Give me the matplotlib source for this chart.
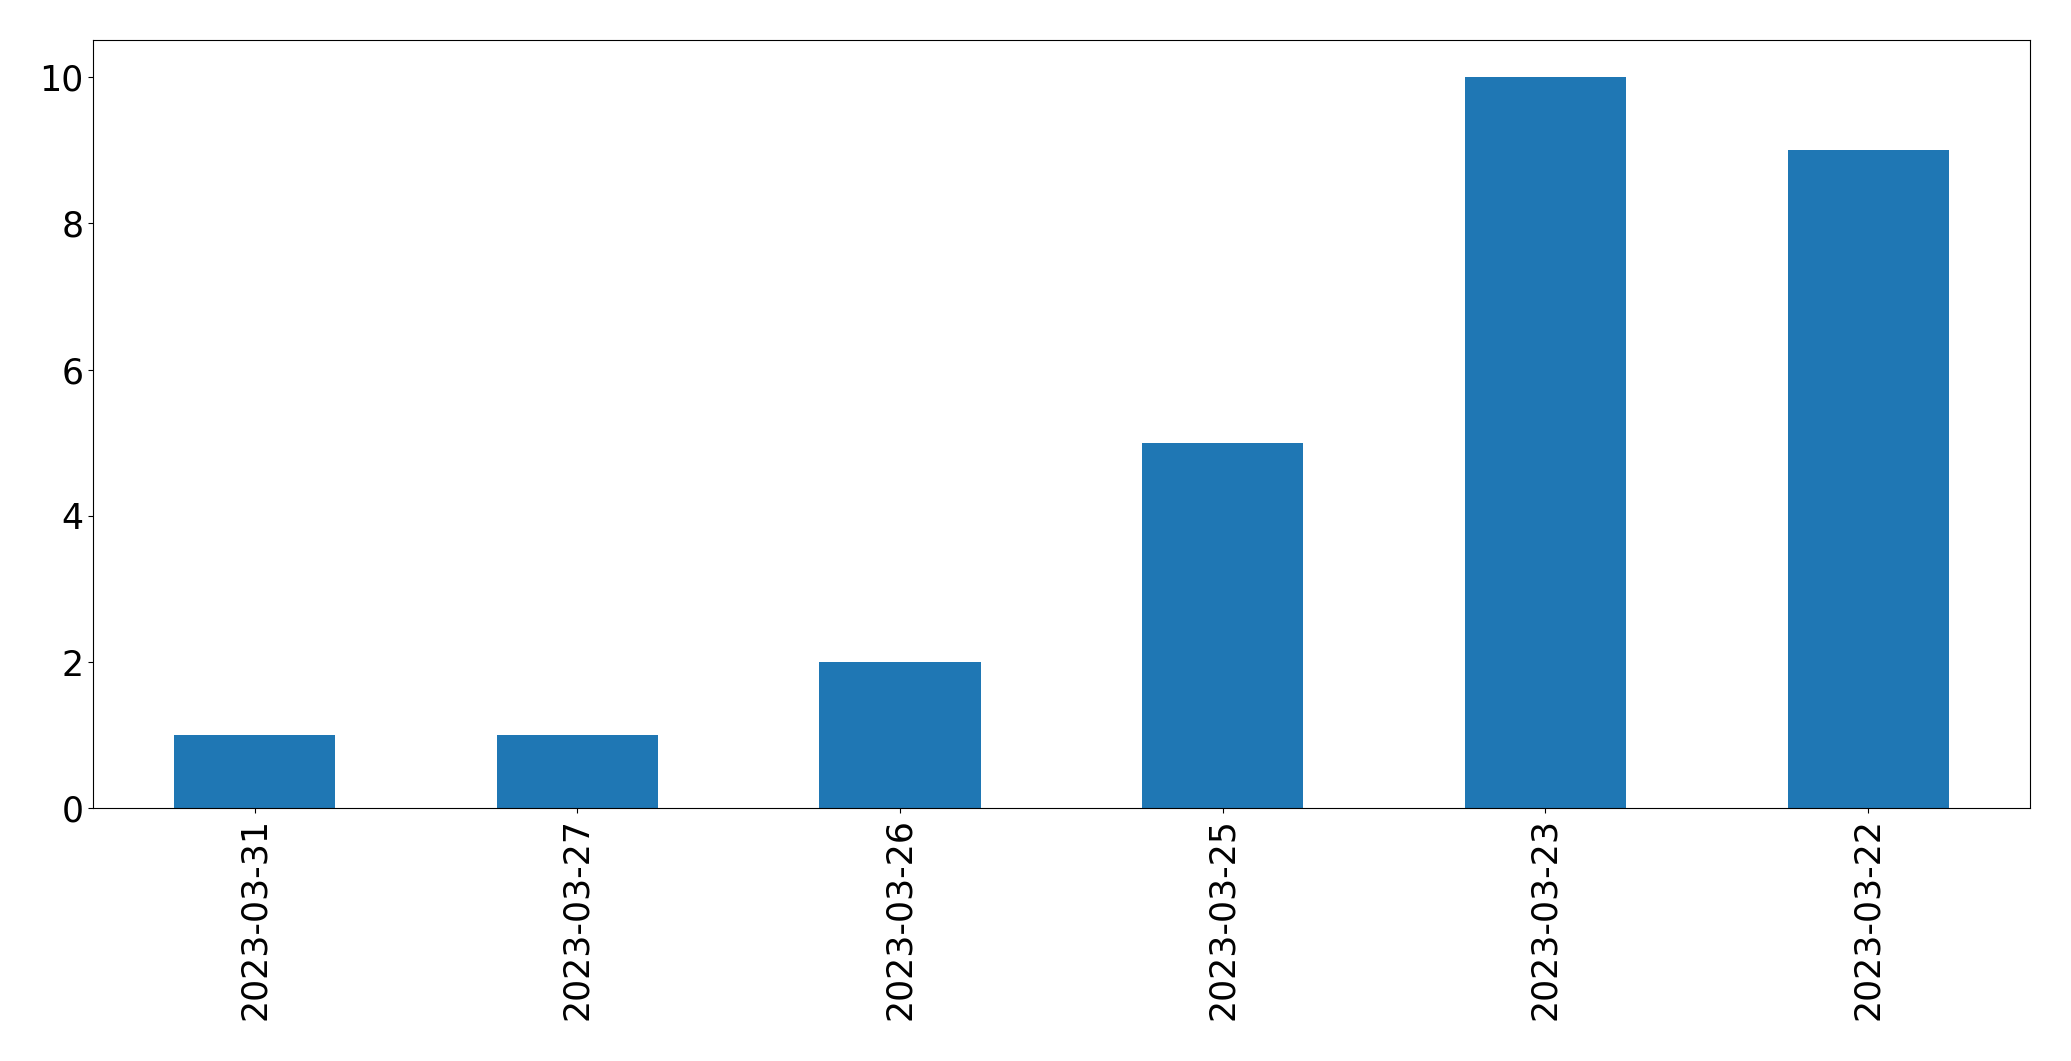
import matplotlib
matplotlib.use("Agg")
import matplotlib.pyplot as plt
import pandas as pd

dates = ["2023-03-31", "2023-03-27", "2023-03-26", "2023-03-25", "2023-03-23", "2023-03-22"]
counts = [1, 1, 2, 5, 10, 9]

series = pd.Series(counts, index=dates)

fig, ax = plt.subplots(figsize=(20.71, 10.61), dpi=100)
series.plot(kind="bar", ax=ax, color="#1f77b4", width=0.5, rot=90, fontsize=25)
fig.subplots_adjust(left=0.045, right=0.98, top=0.962, bottom=0.238)
fig.savefig("out.png", dpi=100)
plt.close(fig)
